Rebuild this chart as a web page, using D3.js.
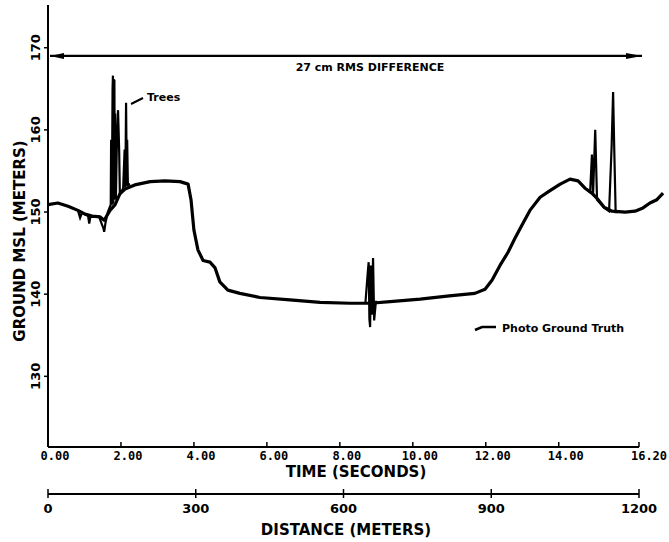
<!DOCTYPE html>
<html>
<head>
<meta charset="utf-8">
<script src="https://cdn.jsdelivr.net/npm/d3@7"></script>
<style>
  body { margin: 0; background: #fff; }
  svg { display: block; }
  text { font-family: "DejaVu Sans", sans-serif; fill: #000; font-weight: bold; }
  .mono { font-family: "DejaVu Sans Mono", monospace; }
</style>
</head>
<body>
<svg id="chart" width="669" height="542"></svg>
<script>
// ground truth profile (time in seconds, ground MSL in meters)
var truthTime = [0, 0.27, 0.55, 0.82, 0.99, 1.21, 1.43, 1.54, 1.70, 1.84, 1.97, 2.11, 2.38, 2.80, 3.21, 3.62, 3.84,
  3.92, 4.00, 4.11, 4.25, 4.44, 4.58, 4.71, 4.93, 5.26, 5.81, 6.63, 7.46, 8.28, 8.83, 9.38, 10.2, 11.0, 11.7,
  11.98, 12.17, 12.39, 12.61, 12.80, 12.99, 13.21, 13.49, 13.76, 14.04, 14.31, 14.53, 14.72, 14.91, 15.08,
  15.24, 15.46, 15.82, 16.09, 16.31, 16.50, 16.69, 16.86];
var truthMsl = [150.9, 151.1, 150.7, 150.2, 149.8, 149.5, 149.4, 149.0, 150.2, 150.9, 152.2, 152.8, 153.3, 153.7, 153.8, 153.7, 153.4,
  151.5, 147.8, 145.4, 144.1, 143.9, 143.2, 141.5, 140.5, 140.1, 139.6, 139.3, 139.0, 138.9, 138.9, 139.1, 139.4, 139.8, 140.1,
  140.6, 141.7, 143.5, 145.1, 146.8, 148.4, 150.2, 151.8, 152.6, 153.4, 154.0, 153.8, 152.9, 152.3, 151.5,
  150.6, 150.1, 150.0, 150.1, 150.5, 151.1, 151.5, 152.3];

// radar returns where they leave the ground truth (trees, dips)
var radarTime = [0.82, 0.88, 0.93, 1.10, 1.13, 1.16, 1.40, 1.52, 1.54, 1.58, 1.64, 1.72, 1.73, 1.75, 1.77, 1.78, 1.79,
  1.80, 1.81, 1.82, 1.83, 1.84, 1.85, 1.86, 1.89, 1.92, 1.95, 1.97, 2.06, 2.10, 2.12, 2.14, 2.16, 2.17, 2.19, 2.25];
var radarMsl = [150.2, 149.3, 149.9, 149.5, 148.6, 149.4, 149.4, 148.0, 147.6, 148.8, 150.0, 150.9, 158.8, 150.9, 165.0, 166.6, 151.0,
  166.2, 152.0, 166.1, 151.5, 162.0, 158.8, 151.5, 158.8, 162.4, 157.6, 152.1, 152.9, 157.6, 153.0, 163.3, 153.2, 158.8, 153.3, 153.4];
var radarTime2 = [8.70, 8.77, 8.79, 8.81, 8.83, 8.85, 8.88, 8.91, 8.94, 8.99];
var radarMsl2 = [138.9, 142.9, 143.9, 137.0, 136.0, 143.5, 137.5, 144.4, 136.8, 139.2];
var radarTime3 = [14.80, 14.86, 14.91, 14.94, 15.00, 15.05, 15.25, 15.38, 15.45, 15.49, 15.52, 15.56, 15.62];
var radarMsl3 = [152.6, 152.4, 157.0, 152.0, 160.0, 151.5, 150.5, 150.1, 158.0, 164.6, 158.0, 150.0, 150.0];

var timeTicks = [0, 2, 4, 6, 8, 10, 12, 14, 16.2];
var distTicks = [0, 300, 600, 900, 1200];
var mslTicks = [130, 140, 150, 160, 170];

var svg = d3.select("svg#chart");

var x = d3.scaleLinear().domain([0, 16.2]).range([48, 639]);
var y = d3.scaleLinear().domain([121.4, 175.2]).range([447, 5]);
var xd = d3.scaleLinear().domain([0, 1200]).range([48, 639]);

var line = d3.line()
  .x(function(d) { return x(d[0]); })
  .y(function(d) { return y(d[1]); });

// y axis
svg.append("line").attr("x1", 48).attr("x2", 48).attr("y1", 5).attr("y2", 447)
  .attr("stroke", "#000").attr("stroke-width", 2);
svg.selectAll("line.ytick").data(mslTicks).enter().append("line")
  .attr("class", "ytick")
  .attr("x1", 44).attr("x2", 48)
  .attr("y1", function(d) { return y(d); }).attr("y2", function(d) { return y(d); })
  .attr("stroke", "#000").attr("stroke-width", 1.5);
svg.selectAll("text.ylab").data(mslTicks).enter().append("text")
  .attr("class", "ylab")
  .attr("transform", function(d) { return "translate(40," + y(d) + ") rotate(-90)"; })
  .attr("text-anchor", "middle")
  .attr("font-size", 13)
  .text(function(d) { return d; });
svg.append("text")
  .attr("transform", "translate(25,241) rotate(-90)")
  .attr("text-anchor", "middle")
  .attr("font-size", 15)
  .style("font-weight", "600")
  .text("GROUND MSL (METERS)");

// time axis
svg.append("line").attr("x1", 48).attr("x2", 639).attr("y1", 447).attr("y2", 447)
  .attr("stroke", "#000").attr("stroke-width", 2);
svg.selectAll("line.xtick").data(timeTicks).enter().append("line")
  .attr("class", "xtick")
  .attr("x1", function(d) { return x(d); }).attr("x2", function(d) { return x(d); })
  .attr("y1", 442).attr("y2", 447)
  .attr("stroke", "#000").attr("stroke-width", 1.5);
svg.selectAll("text.xlab").data(timeTicks).enter().append("text")
  .attr("class", "xlab mono")
  .attr("x", function(d) { return x(d) + (d > 16 ? 10 : 7); })
  .attr("y", 460)
  .attr("text-anchor", "middle")
  .attr("font-size", 12)
  .text(function(d) { return d.toFixed(2); });
svg.append("text")
  .attr("x", 356).attr("y", 477)
  .attr("text-anchor", "middle")
  .attr("font-size", 15)
  .style("font-weight", "600")
  .text("TIME (SECONDS)");

// distance axis
svg.append("line").attr("x1", 48).attr("x2", 639).attr("y1", 494).attr("y2", 494)
  .attr("stroke", "#000").attr("stroke-width", 2);
svg.selectAll("line.dtick").data(distTicks).enter().append("line")
  .attr("class", "dtick")
  .attr("x1", function(d) { return xd(d); }).attr("x2", function(d) { return xd(d); })
  .attr("y1", 489).attr("y2", 498)
  .attr("stroke", "#000").attr("stroke-width", 1.5);
svg.selectAll("text.dlab").data(distTicks).enter().append("text")
  .attr("class", "dlab")
  .attr("x", function(d) { return xd(d); })
  .attr("y", 513)
  .attr("text-anchor", "middle")
  .attr("font-size", 13)
  .text(function(d) { return d; });
svg.append("text")
  .attr("x", 346).attr("y", 535)
  .attr("text-anchor", "middle")
  .attr("font-size", 15)
  .style("font-weight", "600")
  .text("DISTANCE (METERS)");

// RMS arrow
var arrowY = y(169);
svg.append("line").attr("x1", 50).attr("x2", 642).attr("y1", arrowY).attr("y2", arrowY)
  .attr("stroke", "#000").attr("stroke-width", 2.2);
svg.append("path").attr("d", "M50," + arrowY + "L64," + (arrowY - 3) + "L64," + (arrowY + 3) + "Z").attr("fill", "#000");
svg.append("path").attr("d", "M642," + arrowY + "L626," + (arrowY - 3) + "L626," + (arrowY + 3) + "Z").attr("fill", "#000");
svg.append("text")
  .attr("x", 370).attr("y", 71)
  .attr("text-anchor", "middle")
  .attr("font-size", 11)
  .text("27 cm RMS DIFFERENCE");

// radar traces
[[radarTime, radarMsl], [radarTime2, radarMsl2], [radarTime3, radarMsl3]].forEach(function(s) {
  svg.append("path")
    .datum(d3.zip(s[0], s[1]))
    .attr("d", line)
    .attr("fill", "none")
    .attr("stroke", "#000")
    .attr("stroke-width", 2.2)
    .attr("stroke-linejoin", "miter");
});

// ground truth
svg.append("path")
  .datum(d3.zip(truthTime, truthMsl))
  .attr("d", line)
  .attr("fill", "none")
  .attr("stroke", "#000")
  .attr("stroke-width", 3.2)
  .attr("stroke-linejoin", "round");

// Trees annotation
svg.append("line").attr("x1", 131).attr("y1", 104).attr("x2", 143).attr("y2", 98)
  .attr("stroke", "#000").attr("stroke-width", 2);
svg.append("text").attr("x", 147).attr("y", 101).attr("font-size", 11).text("Trees");

// legend
svg.append("path").attr("d", "M475,330 L482,327 L488,327 L496,327")
  .attr("fill", "none").attr("stroke", "#000").attr("stroke-width", 2.5);
svg.append("text").attr("x", 502).attr("y", 332).attr("font-size", 11).text("Photo Ground Truth");
</script>
</body>
</html>
